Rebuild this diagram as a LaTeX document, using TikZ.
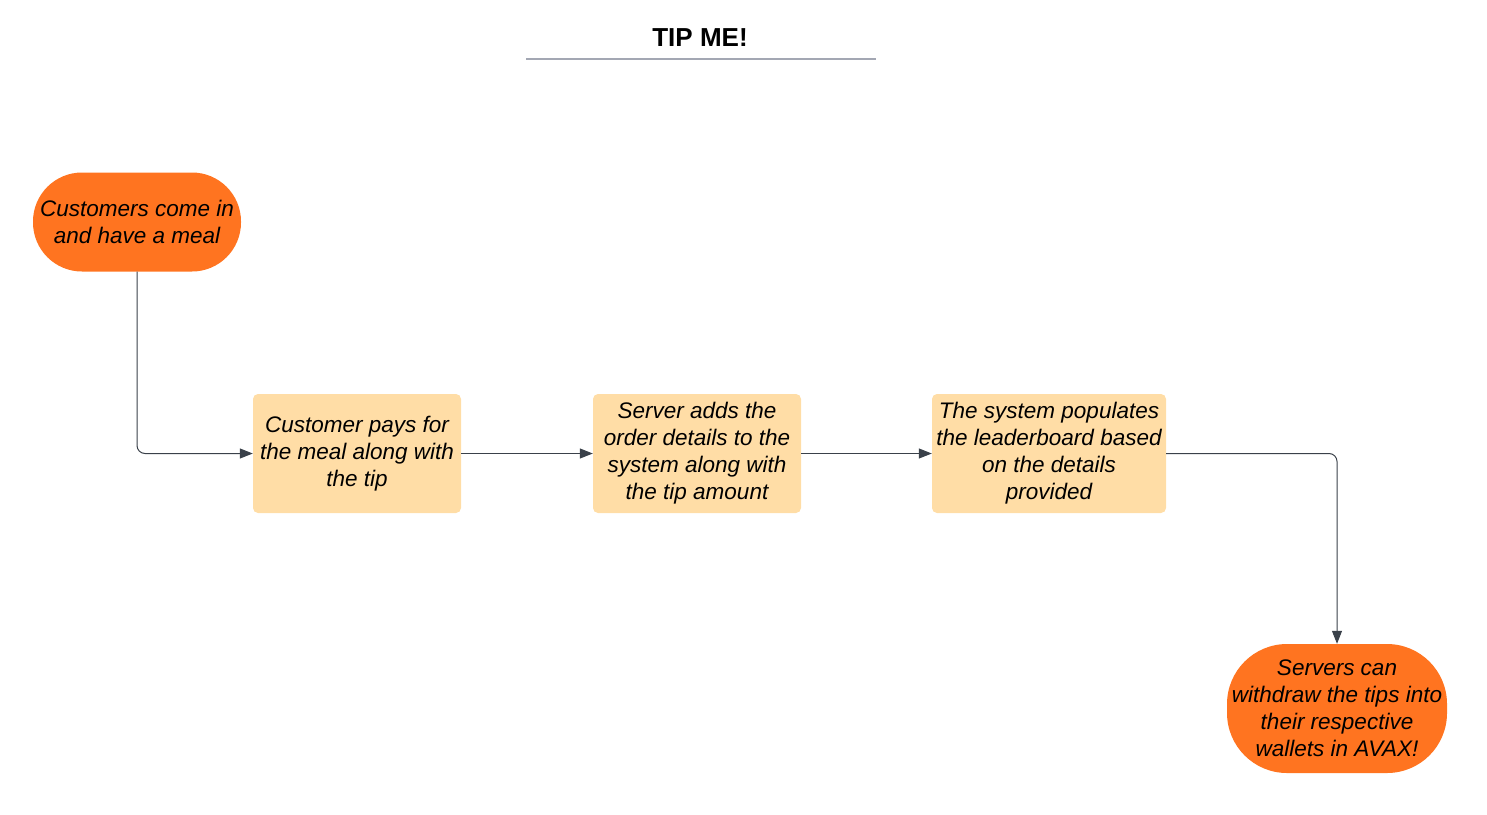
\documentclass[tikz,border=0pt]{standalone}
\usepackage{fontspec}
\setmainfont{Liberation Sans}
\usetikzlibrary{arrows.meta}
\definecolor{startorange}{HTML}{FF7420}
\definecolor{stepfill}{HTML}{FFDDA6}
\definecolor{linegrey}{HTML}{3A414A}
\definecolor{titleline}{HTML}{A3A7B3}
\begin{document}
\begin{tikzpicture}[x=1pt,y=-1pt,
  txt/.style={font=\fontsize{22.5}{27}\selectfont\itshape, align=center, text=black, inner sep=0pt},
  terminal/.style={txt, fill=startorange, draw=none, rounded corners=49pt},
  stepbox/.style={txt, fill=stepfill, draw=none, rounded corners=5pt, minimum height=119pt},
  conn/.style={draw=linegrey, line width=1pt, -{Triangle[length=13pt,width=10pt]}, rounded corners=8pt}
]
\useasboundingbox (0,0) rectangle (1487,814);
\node[font=\fontsize{26}{30}\selectfont\bfseries] (title) at (700,38) {TIP ME!};
\draw[titleline, line width=1.3pt] (526,59) coordinate (tl) -- (876,59) coordinate (tr);

\node[terminal, minimum width=208pt, minimum height=99pt] (start) at (137,222) {Customers come in\\and have a meal};
\node[stepbox, minimum width=208pt] (b1) at (357,453.5) {Customer pays for\\the meal along with\\the tip};
\node[stepbox, minimum width=208pt] (b2) at (697,453.5) {Server adds the\\order details to the\\system along with\\the tip amount};
\node[stepbox, minimum width=234pt] (b3) at (1049,453.5) {The system populates\\the leaderboard based\\on the details\\provided};
\node[terminal, rounded corners=60pt, minimum width=220pt, minimum height=129pt] (end) at (1337,708.5) {Servers can\\withdraw the tips into\\their respective\\wallets in AVAX!};

\draw[conn] (start.south) |- (b1.west);
\draw[conn] (b1.east) -- (b2.west);
\draw[conn] (b2.east) -- (b3.west);
\draw[conn] (b3.east) -| (end.north);
\end{tikzpicture}
\end{document}
